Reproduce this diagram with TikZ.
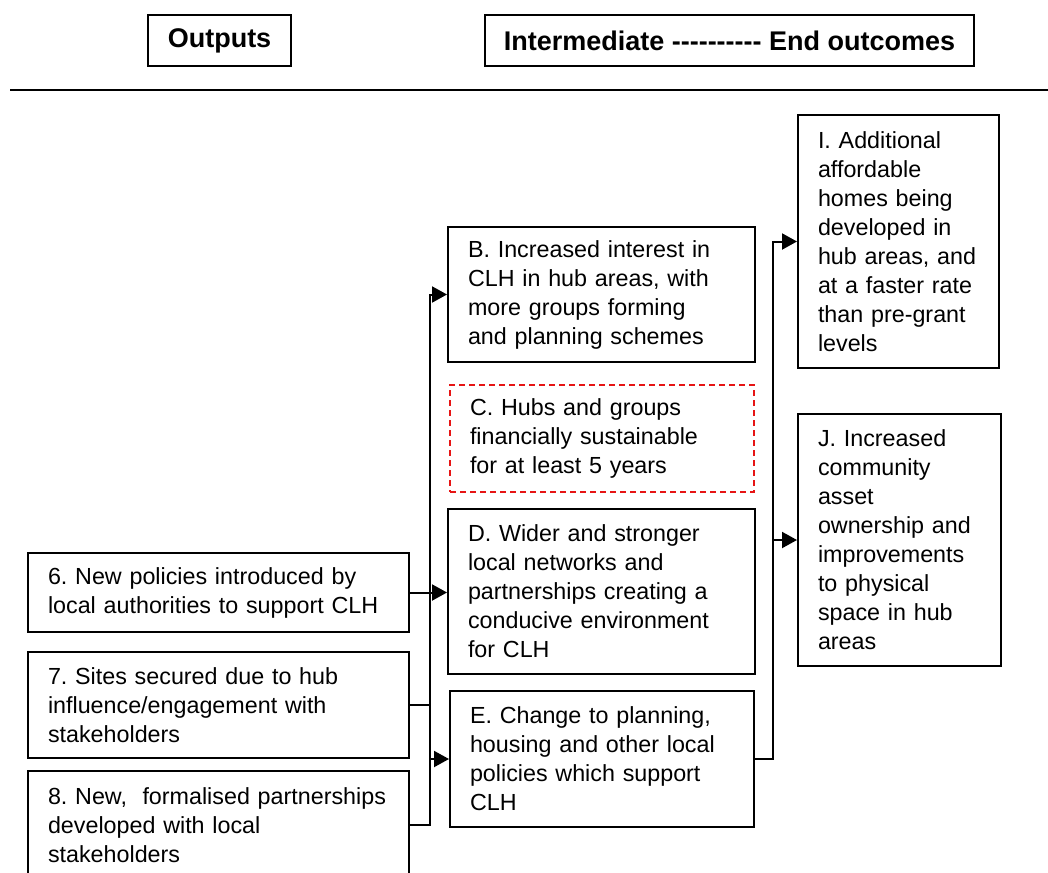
\documentclass[tikz,border=0pt]{standalone}
\usepackage{fontspec}
\setmainfont{Liberation Sans}
\usepackage{tikz}
\usetikzlibrary{arrows.meta}
\usepackage{xcolor}
\definecolor{dashred}{RGB}{230,20,20}
\frenchspacing

\begin{document}
\begin{tikzpicture}[x=1pt,y=-1pt,
  box/.style={draw, line width=2pt, anchor=north west, align=left, inner xsep=20pt, inner ysep=0pt,
              font=\fontsize{23.3}{29}\selectfont},
  headbox/.style={draw, line width=2pt, anchor=north west, align=center, inner sep=0pt,
              font=\fontsize{27}{32}\selectfont\bfseries},
  arr/.style={line width=2pt, -{Triangle[length=15pt,width=16pt]}},
  link/.style={line width=2pt}]
\clip (0,0) rectangle (1048,872);

% headings
\node [headbox, minimum width=143pt, minimum height=51pt] (outh) at (147,14) {Outputs};
\node [headbox, minimum width=489pt, minimum height=51pt] (endh) at (484,14)
  {Intermediate -{}-{}-{}-{}-{}-{}-{}-{}-{}- End outcomes};
\draw [line width=2pt] (10,90) -- (1048,90);

% outputs
\node [box, text width=341pt, minimum height=79pt] (o6) at (27,552)
  {6. New policies introduced by\\local authorities to support CLH};
\node [box, text width=341pt, minimum height=106pt] (o7) at (27,651)
  {7. Sites secured due to hub\\influence/engagement with\\stakeholders};
\node [box, text width=341pt, minimum height=108pt] (o8) at (27,770)
  {8. New,~ formalised partnerships\\developed with local\\stakeholders};

% intermediate outcomes
\node [box, text width=267pt, minimum height=135pt] (B) at (447,226)
  {B. Increased interest in\\CLH in hub areas, with\\more groups forming\\and planning schemes};
\node [box, draw=dashred, dash pattern=on 6pt off 4pt, text width=264pt, minimum height=107pt] (C) at (449,384)
  {C. Hubs and groups\\financially sustainable\\for at least 5 years};
\node [box, text width=267pt, minimum height=165pt] (D) at (447,508)
  {D. Wider and stronger\\local networks and\\partnerships creating a\\conducive environment\\for CLH};
\node [box, text width=264pt, minimum height=136pt] (E) at (449,690)
  {E. Change to planning,\\housing and other local\\policies which support\\CLH};

% end outcomes
\node [box, text width=161pt, minimum height=253pt] (I) at (797,114)
  {I. Additional\\affordable\\homes being\\developed in\\hub areas, and\\at a faster rate\\than pre-grant\\levels};
\node [box, text width=163pt, minimum height=252pt] (J) at (797,413)
  {J. Increased\\community\\asset\\ownership and\\improvements\\to physical\\space in hub\\areas};

% connectors
\coordinate (jl) at (430,0);
\coordinate (jr) at (773,0);
\draw [arr] (o8.east) -| (B.west -| jl) -- (B.west);
\draw [link] (o7.east) -- (o7.east -| jl);
\draw [arr] (o6.east) -- (o6.east -| D.west);
\draw [arr] (E.west -| jl) -- (E.west);
\draw [arr] (E.east) -| (I.west -| jr) -- (I.west);
\draw [arr] (J.west -| jr) -- (J.west);
\end{tikzpicture}
\end{document}
